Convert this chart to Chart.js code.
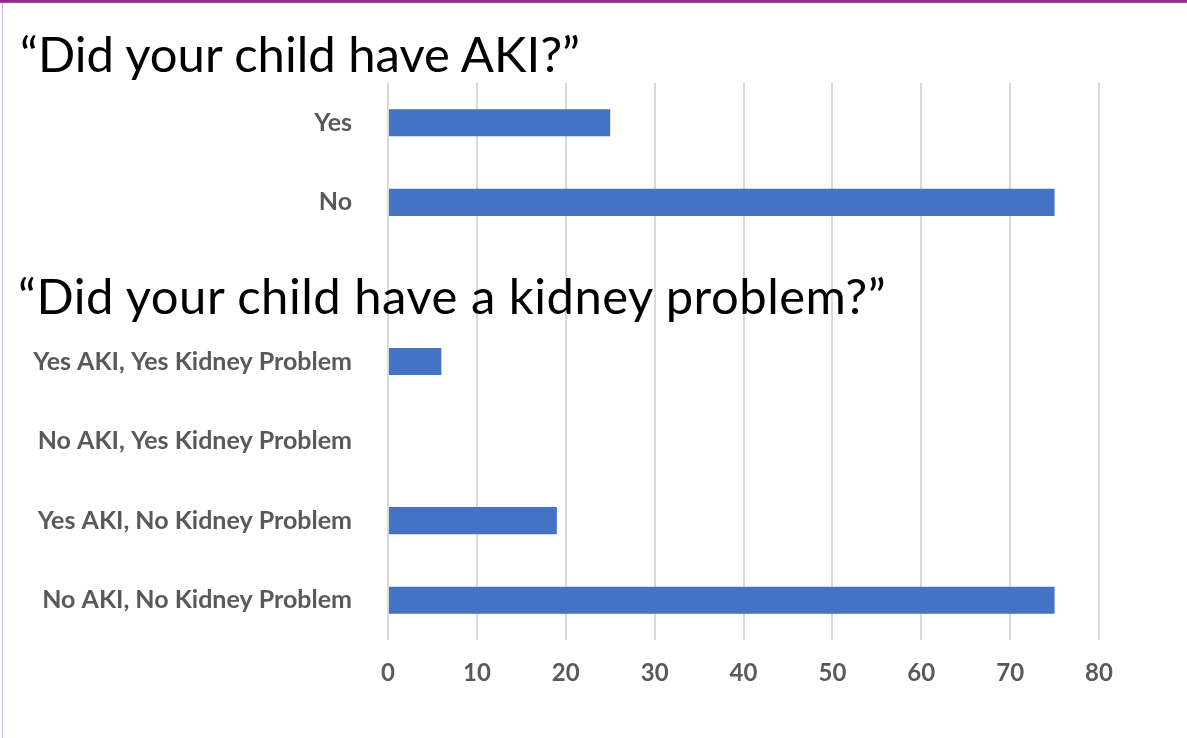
<!DOCTYPE html>
<html>
<head>
<meta charset="utf-8">
<script src="https://cdn.jsdelivr.net/npm/chart.js@4.4.1/dist/chart.umd.min.js"></script>
<style>
  html, body { margin: 0; padding: 0; background: #ffffff; }
  #wrap { position: relative; width: 1187px; height: 738px; overflow: hidden; background: #fff; }
  #topbar { position: absolute; left: 0; top: 0; width: 1187px; height: 3px; background: linear-gradient(#85257a, #a24a97); }
  #leftline { position: absolute; left: 2px; top: 3px; width: 1px; height: 735px; background: #dcb6da; }
  canvas { position: absolute; left: 0; top: 0; }
  .title { position: absolute; font-family: Lato, "Open Sans", sans-serif; color: #000; font-size: 49px; line-height: 1; white-space: nowrap; }
  #t1 { left: 20px; top: 29px; }
  #t2 { left: 18px; top: 271px; letter-spacing: 0.5px; }
</style>
</head>
<body>
<div id="wrap">
  <canvas id="c" width="1187" height="738"></canvas>
  <div id="topbar"></div>
  <div id="leftline"></div>
  <div class="title" id="t1">“Did your child have AKI?”</div>
  <div class="title" id="t2">“Did your child have a kidney problem?”</div>
</div>
<script>
const categories = [
  "Yes",
  "No",
  "",
  "Yes AKI, Yes Kidney Problem",
  "No AKI, Yes Kidney Problem",
  "Yes AKI, No Kidney Problem",
  "No AKI, No Kidney Problem"
];
const values = [25, 75, null, 6, 0, 19, 75];
const tickValues = [0, 10, 20, 30, 40, 50, 60, 70, 80];

const ctx = document.getElementById('c').getContext('2d');
new Chart(ctx, {
  type: 'bar',
  data: {
    labels: categories,
    datasets: [{
      data: values,
      backgroundColor: '#4472C4',
      borderWidth: 0,
      categoryPercentage: 1,
      barPercentage: 0.34
    }]
  },
  options: {
    indexAxis: 'y',
    responsive: false,
    animation: false,
    devicePixelRatio: 1,
    layout: { padding: { top: 83, right: 88, bottom: 0, left: 0 } },
    plugins: { legend: { display: false }, tooltip: { enabled: false }, title: { display: false } },
    scales: {
      x: {
        min: 0, max: 80,
        afterBuildTicks: (s) => { s.ticks = tickValues.map(v => ({ value: v })); },
        afterFit: (s) => { s.height = 98; },
        grid: { color: '#d9d9d9', lineWidth: 2, drawTicks: false },
        border: { display: false },
        ticks: { color: '#595959', padding: 19, font: { family: 'Lato', size: 24, weight: 'bold' } }
      },
      y: {
        afterFit: (s) => { s.width = 388; },
        grid: { display: false, drawTicks: false },
        border: { display: false },
        ticks: { color: '#595959', padding: 36, font: { family: 'Lato', size: 25, weight: 'bold' } }
      }
    }
  }
});
</script>
</body>
</html>
